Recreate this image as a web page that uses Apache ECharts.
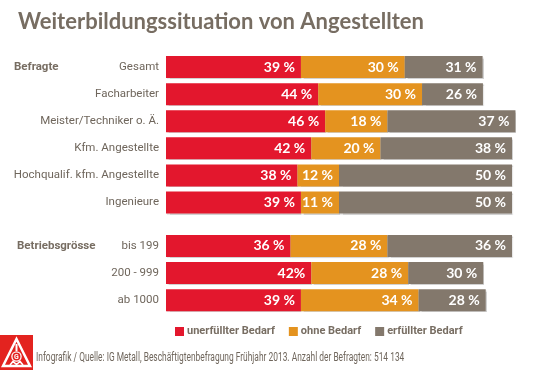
<!DOCTYPE html>
<html><head><meta charset="utf-8">
<script src="https://cdn.jsdelivr.net/npm/echarts@6/dist/echarts.min.js"></script>
<style>html,body{margin:0;padding:0;background:#fff}#c{width:542px;height:370px}</style>
</head><body><div id="c"></div>
<script>
// --- data ---
const catsBefragte = ['Gesamt','Facharbeiter','Meister/Techniker o. Ä.','Kfm. Angestellte','Hochqualif. kfm. Angestellte','Ingenieure'];
const catsBetrieb = ['bis 199','200 - 999','ab 1000'];
const unerfuellt = [39,44,46,42,38,39,36,42,39];
const ohne = [30,30,18,20,12,11,28,28,34];
const erfuellt = [31,26,37,38,50,50,36,30,28];
// grey bar lengths as drawn in the picture (some are drawn shorter than their value)
const erfuelltDrawn = [22.5,17.6,37,38,50,50,36,21.7,19.4];
const labelsUnerfuellt = ['39 %','44 %','46 %','42 %','38 %','39 %','36 %','42%','39 %'];
const labelsOhne = ['30 %','30 %','18 %','20 %','12 %','11 %','28 %','28 %','34 %'];
const labelsErfuellt = ['31 %','26 %','37 %','38 %','50 %','50 %','36 %','30 %','28 %'];
const seriesNames = ['unerfüllter Bedarf','ohne Bedarf','erfüllter Bedarf'];
const colors = ['#e3172d','#e4931f','#83786c'];

const TXT = '#6f665c', HEAD = '#776d62';
const chart = echarts.init(document.getElementById('c'), null, {renderer:'canvas'});

function mkSeries(gi, offset, n){
  const vals = [unerfuellt, ohne, erfuelltDrawn];
  const labs = [labelsUnerfuellt, labelsOhne, labelsErfuellt];
  return vals.map((v,si)=>({
    type:'bar', name: seriesNames[si], stack:'s'+gi, xAxisIndex:gi, yAxisIndex:gi,
    barWidth:22, clip:false,
    itemStyle:{color:colors[si], shadowColor:'rgba(0,0,0,0.18)', shadowBlur:1, shadowOffsetX:1, shadowOffsetY:1},
    label:{show:true, position:'insideRight', distance:6, color:'#fff', fontFamily:'Lato', fontWeight:'bold', fontSize:14,
      formatter:(p)=>labs[si][offset+p.dataIndex]},
    data: v.slice(offset, offset+n)
  }));
}

const axisLabelStyle = {color:TXT, fontFamily:'Roboto', fontSize:11.5, margin:7};
chart.setOption({
  animation:false,
  title:{text:'Weiterbildungssituation von Angestellten', left:13, top:6,
    textStyle:{color:HEAD, fontFamily:'Lato', fontWeight:'bold', fontSize:22}},
  legend:{data:seriesNames, left:170, top:321, icon:'rect', itemWidth:9, itemHeight:9, itemGap:14,
    textStyle:{color:HEAD, fontFamily:'Roboto', fontWeight:'bold', fontSize:11, padding:[0,0,0,-2]}},
  grid:[
    {left:166, top:53.5, width:380.6, height:162.6, outerBoundsMode:'none', containLabel:false},
    {left:166, top:232.3, width:380.6, height:81.6, outerBoundsMode:'none', containLabel:false}
  ],
  xAxis:[
    {type:'value', gridIndex:0, min:0, max:110, show:false},
    {type:'value', gridIndex:1, min:0, max:110, show:false}
  ],
  yAxis:[
    {type:'category', gridIndex:0, data:catsBefragte, inverse:true, axisLine:{show:false}, axisTick:{show:false}, axisLabel:axisLabelStyle},
    {type:'category', gridIndex:1, data:catsBetrieb, inverse:true, axisLine:{show:false}, axisTick:{show:false}, axisLabel:axisLabelStyle}
  ],
  series:[...mkSeries(0,0,6), ...mkSeries(1,6,3)],
  graphic:[
    {type:'text', x:14, y:67, style:{text:'Befragte', fill:HEAD, font:"bold 11.5px Roboto", verticalAlign:'middle'}},
    {type:'text', x:17, y:246.5, style:{text:'Betriebsgrösse', fill:HEAD, font:"bold 11.5px Roboto", verticalAlign:'middle'}},
    {type:'text', x:36, y:358, scaleX:0.7, style:{text:'Infografik / Quelle: IG Metall, Beschäftigtenbefragung Frühjahr 2013. Anzahl der Befragten: 514 134', fill:TXT, font:"12px Roboto", verticalAlign:'middle'}},
    {type:'group', x:0, y:335, children:[
      {type:'rect', shape:{x:0,y:0,width:33,height:35}, style:{fill:'#e3231f'}},
      {type:'polygon', shape:{points:[[16.5,4],[30,31],[3,31]]}, style:{fill:'none', stroke:'#fff', lineWidth:2.5}},
      {type:'line', shape:{x1:16.5,y1:9,x2:16.5,y2:16}, style:{stroke:'#fff', lineWidth:2}},
      {type:'circle', shape:{cx:16.5, cy:21.5, r:4.6}, style:{fill:'none', stroke:'#fff', lineWidth:1.3}},
      {type:'text', style:{text:'G', x:16.5, y:21.8, align:'center', verticalAlign:'middle', fill:'#fff', font:'bold 7px Roboto'}},
      {type:'polyline', shape:{points:[[10,30],[13,26.5],[16.5,29.5],[20,26.5],[23,30]]}, style:{stroke:'#fff', lineWidth:1.6, fill:'none'}}
    ]}
  ]
});
</script></body></html>
